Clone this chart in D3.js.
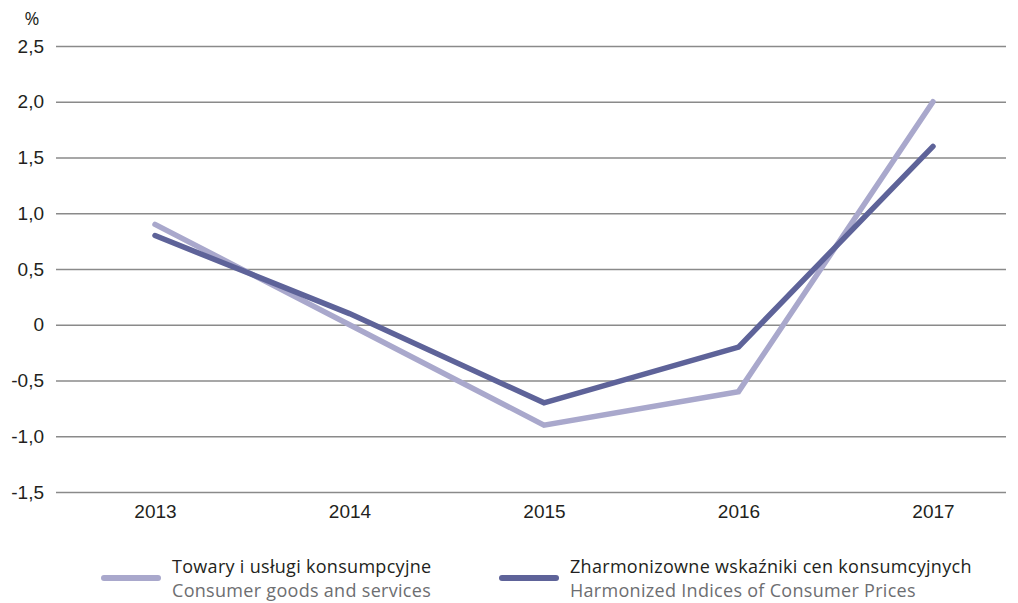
<!DOCTYPE html>
<html><head><meta charset="utf-8">
<script src="https://cdn.jsdelivr.net/npm/d3@7"></script>
<style>body{margin:0;background:#fff}svg{display:block;font-family:"Open Sans",sans-serif}</style>
</head><body><svg id="c" width="1018" height="603"></svg>
<script>
const years = ["2013","2014","2015","2016","2017"];
const towary = [0.9, 0.0, -0.9, -0.6, 2.0];
const hicp = [0.8, 0.1, -0.7, -0.2, 1.6];
const yTicks = [-1.5,-1.0,-0.5,0,0.5,1.0,1.5,2.0,2.5];
const legendPl = ["Towary i usługi konsumpcyjne","Zharmonizowne wskaźniki cen konsumcyjnych"];
const legendEn = ["Consumer goods and services","Harmonized Indices of Consumer Prices"];
const colors = ["#a9a8cc","#5e6399"];

const svg = d3.select("#c");
const x = d3.scalePoint().domain(years).range([155,933]);
const y = d3.scaleLinear().domain([-1.5,2.5]).range([492,46]);
const fmt = v => v===0 ? "0" : d3.format(".1f")(v).replace(".",",").replace("−","-");

const yAxis = d3.axisLeft(y).tickValues(yTicks).tickSize(-950).tickPadding(12).tickFormat(fmt);
const gy = svg.append("g").attr("transform","translate(56,0)").call(yAxis);
gy.select(".domain").remove();
gy.selectAll(".tick line").attr("stroke","#8a8a8a").attr("stroke-width",1.3);
gy.selectAll(".tick text").attr("font-size",19).attr("fill","#231f20").attr("x",-12);

const xAxis = d3.axisBottom(x).tickSize(0).tickPadding(13);
const gx = svg.append("g").attr("transform","translate(0,492)").call(xAxis);
gx.select(".domain").remove();
gx.selectAll(".tick text").attr("font-size",19).attr("fill","#231f20");

svg.append("text").attr("x",32).attr("y",25).attr("font-size",18).attr("text-anchor","middle").attr("fill","#231f20").text("%");

const line = d3.line().x((d,i)=>x(years[i])).y(d=>y(d));
[towary,hicp].forEach((s,k)=>{
  svg.append("path").datum(s).attr("d",line).attr("fill","none")
    .attr("stroke",colors[k]).attr("stroke-width",5.5).attr("stroke-linecap","round").attr("stroke-linejoin","miter");
});

const lx = [102,500];
lx.forEach((x0,k)=>{
  const g = svg.append("g");
  g.append("line").attr("x1",x0+2).attr("x2",x0+56).attr("y1",578).attr("y2",578)
    .attr("stroke",colors[k]).attr("stroke-width",6).attr("stroke-linecap","round");
  g.append("text").attr("x",x0+70).attr("y",573).attr("font-size",18).attr("letter-spacing",0.3).attr("fill","#231f20").text(legendPl[k]);
  g.append("text").attr("x",x0+70).attr("y",597).attr("font-size",18).attr("letter-spacing",0.3).attr("fill","#6d6e71").text(legendEn[k]);
});
</script></body></html>
